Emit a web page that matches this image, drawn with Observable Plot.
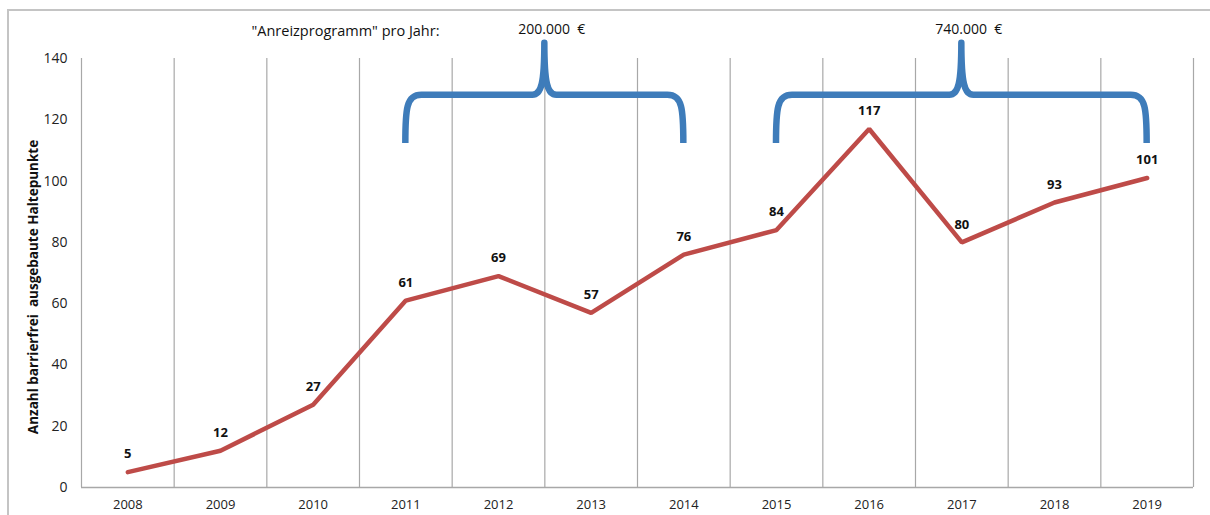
<!DOCTYPE html>
<html>
<head>
<meta charset="utf-8">
<script src="https://cdn.jsdelivr.net/npm/d3@7"></script>
<script src="https://cdn.jsdelivr.net/npm/@observablehq/plot@0.6"></script>
<style>
  html, body { margin: 0; padding: 0; background: #fff; overflow: hidden; }
  #wrap { position: relative; width: 1210px; height: 515px; }
  #frame { position: absolute; left: 7px; top: 9px; width: 1220px; height: 530px; border: 2px solid #c4c4c4; box-sizing: border-box; pointer-events: none; }
  #chart { position: absolute; left: 0; top: 0; }
</style>
</head>
<body>
<div id="wrap"><div id="frame"></div><div id="chart"></div></div>
<script>
// ---- data ----
const years = [2008, 2009, 2010, 2011, 2012, 2013, 2014, 2015, 2016, 2017, 2018, 2019];
const values = [5, 12, 27, 61, 69, 57, 76, 84, 117, 80, 93, 101];
const yTicks = [0, 20, 40, 60, 80, 100, 120, 140];
const yLabel = "Anzahl barrierfrei  ausgebaute Haltepunkte";
const programTitle = "\"Anreizprogramm\" pro Jahr:";
const braceFrom = [2011, 2015];
const braceTo = [2014, 2019];
const braceAmounts = ["200.000  €", "740.000  €"];

const data = years.map((year, i) => ({year, value: values[i]}));
const braces = braceFrom.map((from, i) => ({from, to: braceTo[i], amount: braceAmounts[i]}));
const boundaries = [...years.map(y => y - 0.5), years[years.length - 1] + 0.5];

const FONT = "'Open Sans', sans-serif";
const BLUE = "#3e7cba";

// brace levels (in y units): end of arms, horizontal bar, tip
const ARM = 112.3, BAR = 128, TIP = 145;

function braceMark(index, scales) {
  const g = d3.create("svg:g");
  for (const b of braces) {
    const x1 = scales.x(b.from), x2 = scales.x(b.to), xm = (x1 + x2) / 2;
    const yb = scales.y(ARM), yh = scales.y(BAR), yt = scales.y(TIP);
    const p = d3.path();
    p.moveTo(x1, yb);
    p.bezierCurveTo(x1, yh + 14, x1 + 1, yh, x1 + 16, yh);
    p.lineTo(xm - 12, yh);
    p.bezierCurveTo(xm - 3, yh, xm, yh - 12, xm, yt);
    p.bezierCurveTo(xm, yh - 12, xm + 3, yh, xm + 12, yh);
    p.lineTo(x2 - 16, yh);
    p.bezierCurveTo(x2 - 1, yh, x2, yh + 14, x2, yb);
    g.append("path").attr("d", p.toString())
      .attr("fill", "none").attr("stroke", BLUE).attr("stroke-width", 6.5)
      .attr("stroke-linejoin", "round").attr("stroke-linecap", "butt");
  }
  return g.node();
}

const chart = Plot.plot({
  width: 1210,
  height: 515,
  marginLeft: 81,
  marginRight: 17,
  marginTop: 58,
  marginBottom: 28,
  style: {fontFamily: FONT, fontSize: "13px", color: "#222", background: "transparent"},
  x: {domain: [2007.5, 2019.5], ticks: years, tickFormat: d => String(d), tickSize: 0, tickPadding: 12, label: null},
  y: {domain: [0, 140], ticks: yTicks, tickSize: 0, tickPadding: 14, label: null},
  marks: [
    Plot.ruleX(boundaries, {y1: 0, y2: 140, stroke: "#a8a8a8", strokeWidth: 1.2}),
    Plot.ruleY([0], {stroke: "#a8a8a8", strokeWidth: 1.5}),
    Plot.axisY({ticks: yTicks, tickSize: 0, tickPadding: 14, fontSize: 14, label: null}),
    Plot.line(data, {x: "year", y: "value", stroke: "#be4b48", strokeWidth: 4.5, strokeLinejoin: "miter"}),
    Plot.text(data, {x: "year", y: "value", text: d => String(d.value), dy: -18, fontWeight: "bold", fontSize: 13, fill: "#111"}),
    braceMark,
    Plot.text(braces, {x: d => (d.from + d.to) / 2, y: TIP, text: "amount", dx: 7, dy: -14, fontSize: 14, fill: "#111"}),
    Plot.text([programTitle], {frameAnchor: "top", lineAnchor: "middle", dx: 345 - 637, dy: -27, fontSize: 14.5, fill: "#111"}),
    Plot.text([yLabel], {frameAnchor: "left", textAnchor: "middle", lineAnchor: "middle", rotate: -90, dx: -48, dy: 14, fontWeight: "bold", fontSize: 13.5, fill: "#111"})
  ]
});
document.getElementById("chart").appendChild(chart);
</script>
</body>
</html>
